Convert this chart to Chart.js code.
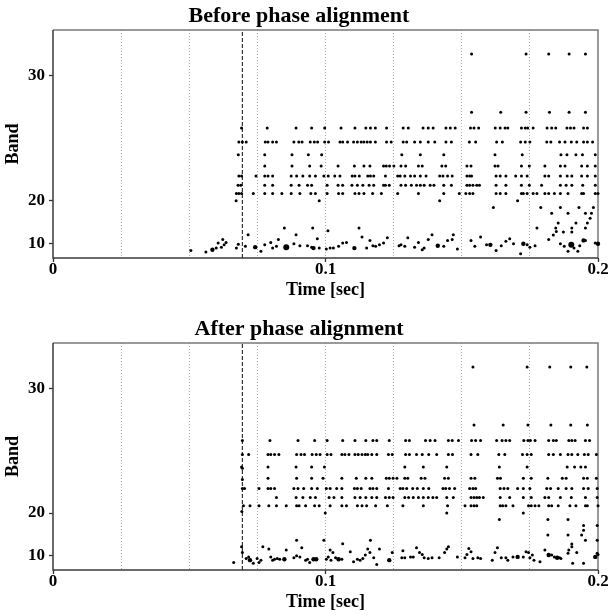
<!DOCTYPE html>
<html>
<head>
<meta charset="utf-8">
<script src="https://cdn.jsdelivr.net/npm/chart.js@4.4.1/dist/chart.umd.min.js"></script>
<style>
  body { margin: 0; background: #fff; }
  .box { position: relative; width: 611px; }
  #top { height: 312px; }
  #bottom { height: 303px; }
</style>
</head>
<body>
<div class="box" id="top"><canvas id="before"></canvas></div>
<div class="box" id="bottom"><canvas id="after"></canvas></div>
<script>
// bands that fire as regular rows, and the spike times (ms) on each row
const rowBands = [31, 28, 27, 26, 25, 24, 23, 22, 21];

const beforeRowTimes = [
  [153.6, 173.6, 181.9, 189.4, 195.4],
  [153.6, 164.3, 173.6, 182.2, 189.4, 195.4],
  [69.2, 78.6, 89.2, 94.9, 99.7, 105.7, 110.8, 114.8, 116.5, 118.3, 122.4, 128.5, 130.4, 135.8, 137.7, 139.5, 144.2, 145.8, 147.6, 153.2, 154.5, 156.2, 162.3, 164.1, 165.9, 166.9, 171.9, 173.3, 174.2, 176.2, 181.3, 183.0, 184.5, 188.6, 189.9, 191.2, 194.7, 196.1],
  [68.2, 69.5, 70.9, 77.9, 78.9, 80.6, 82.0, 88.4, 90.2, 91.4, 94.4, 95.9, 97.1, 99.7, 101.1, 105.3, 106.3, 108.1, 110.3, 111.7, 113.1, 114.1, 115.3, 116.5, 118.3, 122.4, 124.1, 128.5, 129.8, 132.7, 134.8, 137.7, 140.1, 144.2, 146.2, 152.8, 155.1, 162.8, 164.9, 171.6, 173.3, 175.0, 181.2, 182.7, 185.9, 187.9, 190.2, 192.2, 194.7, 196.1, 198.0],
  [68.0, 77.7, 87.7, 93.7, 98.6, 128.0, 134.8, 143.4, 162.2, 172.2, 186.4, 188.6, 191.9, 194.3, 199.0],
  [77.7, 87.7, 94.2, 98.4, 104.6, 110.6, 114.1, 116.3, 121.3, 122.3, 123.5, 125.1, 127.7, 129.4, 134.1, 135.5, 142.7, 144.1, 151.9, 153.4, 162.2, 163.3, 171.9, 174.8, 180.5, 186.2, 187.9, 194.0, 196.1, 199.0],
  [68.2, 69.2, 74.5, 77.7, 78.9, 80.6, 87.4, 89.4, 91.7, 94.2, 96.3, 99.4, 101.0, 103.4, 105.3, 109.8, 110.8, 112.4, 115.5, 116.5, 117.7, 122.0, 126.5, 127.4, 129.1, 131.2, 132.7, 134.8, 136.9, 141.9, 143.1, 144.8, 146.5, 151.9, 152.9, 153.6, 162.6, 164.1, 166.2, 169.8, 171.9, 174.0, 180.5, 181.9, 186.2, 188.7, 190.4, 194.0, 196.1, 199.0],
  [67.9, 68.9, 77.7, 80.6, 87.4, 90.3, 93.4, 94.9, 100.6, 104.6, 106.3, 109.7, 111.7, 113.7, 116.0, 117.7, 121.3, 122.0, 123.4, 127.7, 129.4, 131.5, 133.4, 134.8, 136.2, 138.4, 139.8, 143.4, 146.2, 151.9, 152.9, 154.1, 155.5, 156.5, 162.6, 166.2, 171.9, 174.8, 179.3, 186.2, 188.3, 190.4, 194.4, 199.0],
  [67.3, 68.2, 69.2, 73.5, 77.7, 80.6, 84.0, 87.4, 90.6, 94.6, 96.3, 100.6, 104.8, 106.3, 110.8, 112.3, 114.1, 117.3, 120.5, 126.5, 134.1, 143.4, 149.1, 151.5, 152.9, 154.1, 162.6, 164.1, 166.2, 171.9, 172.6, 174.0, 176.2, 177.6, 180.5, 181.9, 184.0, 186.2, 189.0, 194.0, 194.7, 199.0, 200.0]
];

const afterRowTimes = [
  [154.1, 174.0, 182.3, 190.0, 195.9],
  [154.5, 165.2, 174.3, 182.7, 190.0, 196.1],
  [69.5, 79.6, 89.9, 96.0, 100.6, 106.3, 110.8, 114.8, 117.4, 118.8, 123.4, 129.4, 130.8, 136.7, 138.4, 140.2, 145.1, 146.5, 148.8, 153.6, 155.1, 156.9, 162.8, 164.8, 166.2, 167.6, 172.8, 174.3, 175.2, 176.9, 181.9, 183.6, 184.7, 189.3, 190.4, 191.6, 195.4, 196.9],
  [69.5, 71.8, 78.9, 79.9, 81.3, 82.9, 89.4, 91.0, 92.3, 95.1, 96.6, 98.0, 100.6, 102.0, 106.0, 107.1, 108.6, 110.8, 112.0, 113.4, 114.6, 115.5, 117.0, 118.8, 123.1, 124.5, 129.4, 130.8, 133.4, 135.5, 137.9, 140.8, 145.1, 146.6, 153.4, 155.9, 163.6, 165.8, 172.3, 174.0, 175.5, 181.9, 183.6, 186.2, 189.0, 190.4, 192.6, 195.0, 196.4, 199.4],
  [69.2, 78.9, 89.2, 94.9, 99.6, 129.1, 135.9, 144.5, 163.8, 174.0, 188.7, 191.4, 193.7, 195.4],
  [78.9, 89.4, 94.9, 99.1, 106.0, 111.3, 114.8, 117.0, 122.3, 123.4, 124.8, 126.2, 129.1, 130.2, 135.1, 136.5, 143.7, 145.1, 153.4, 154.8, 163.1, 164.2, 172.6, 175.5, 181.6, 186.9, 188.3, 194.7, 196.1, 199.4],
  [69.5, 70.3, 75.6, 78.9, 79.9, 81.3, 88.4, 89.9, 92.0, 94.9, 97.0, 100.3, 101.7, 104.1, 106.0, 110.6, 111.7, 113.1, 116.3, 117.4, 118.8, 123.1, 127.4, 128.4, 129.8, 132.0, 133.7, 135.9, 137.9, 143.1, 144.1, 145.5, 147.4, 152.9, 154.1, 155.1, 164.1, 165.5, 166.9, 170.5, 172.6, 175.0, 181.2, 182.6, 185.4, 188.3, 190.4, 194.7, 196.4, 199.7],
  [82.0, 89.2, 91.7, 94.4, 96.3, 101.3, 103.1, 106.0, 110.8, 112.7, 114.8, 117.0, 118.8, 122.0, 123.4, 124.8, 129.1, 130.5, 132.2, 134.1, 135.9, 137.7, 139.4, 140.8, 144.5, 146.9, 153.4, 154.5, 155.5, 156.5, 157.9, 164.1, 167.6, 172.6, 175.5, 180.5, 181.9, 186.2, 190.2, 195.4, 199.7],
  [69.9, 72.3, 75.6, 79.2, 82.0, 85.6, 89.4, 90.3, 92.7, 96.0, 97.7, 101.7, 106.0, 107.7, 111.7, 113.4, 115.1, 118.4, 122.7, 128.4, 135.9, 144.8, 151.2, 153.4, 154.5, 155.5, 164.1, 165.0, 166.2, 168.8, 174.5, 175.5, 176.9, 178.3, 181.9, 183.0, 185.4, 189.7, 191.9, 195.4, 196.1, 200.0]
];

// loose spikes: [time ms, band, strength 1..3]
const beforeLoose = [
  [67.2, 20, 1], [97.7, 20, 1], [141.9, 20, 1], [170.5, 20, 1],
  [161.6, 19, 1], [179.0, 19, 1], [186.2, 19, 1], [193.0, 19, 1], [198.3, 19, 1],
  [183.0, 18, 1], [189.0, 18, 1], [195.4, 18, 1], [197.6, 18, 1], [197.1, 17.1, 1],
  [185.4, 16.1, 1], [191.9, 16.1, 1], [196.1, 16.1, 1],
  [177.6, 14.9, 1], [184.5, 14.9, 1], [190.4, 14.9, 1], [195.4, 14.9, 1],
  [187.3, 13.9, 1], [190.4, 13.9, 1],
  [50.6, 6.5, 1], [56.1, 5.4, 1], [58.5, 6.9, 2], [59.9, 7.8, 1], [61.8, 8.3, 1], [62.8, 9.4, 1],
  [63.5, 10.4, 1], [62.3, 11.5, 1], [60.6, 10.2, 1], [67.3, 7.8, 1], [68.0, 9.7, 1], [70.6, 8.7, 1],
  [71.6, 13.1, 1], [74.2, 8.3, 2], [76.3, 5.9, 1], [77.7, 9.4, 1], [79.9, 10.4, 1], [80.6, 7.8, 1],
  [82.0, 8.7, 1], [82.7, 11.5, 1], [84.9, 14.9, 1], [85.6, 8.3, 3], [88.4, 9.9, 1], [89.2, 13.1, 1],
  [90.6, 9.0, 1], [93.4, 9.0, 1], [94.9, 8.3, 1], [95.3, 14.9, 1], [95.6, 7.8, 2], [97.0, 11.8, 1],
  [97.7, 7.8, 1], [100.3, 7.3, 1], [100.9, 14.2, 1], [101.7, 7.8, 1], [102.9, 7.8, 1], [104.8, 8.7, 1],
  [106.3, 10.2, 1], [107.7, 10.4, 1], [110.6, 7.8, 2], [112.3, 14.9, 1], [113.4, 12.4, 1], [115.1, 7.8, 1],
  [116.3, 11.2, 1], [117.4, 9.0, 1], [118.4, 8.7, 1], [119.8, 9.4, 1], [121.3, 10.2, 1], [122.7, 12.1, 1],
  [127.0, 9.0, 1], [127.7, 9.4, 1], [129.1, 8.7, 1], [130.2, 12.1, 1], [132.7, 8.3, 1], [134.1, 10.4, 1],
  [135.5, 6.9, 1], [136.2, 7.8, 1], [137.7, 11.5, 1], [139.1, 13.1, 1], [141.2, 9.0, 2], [143.4, 8.7, 1],
  [144.8, 11.2, 1], [146.5, 11.5, 1], [146.9, 13.1, 1], [148.4, 7.3, 1], [153.4, 11.2, 1], [154.8, 8.7, 1],
  [156.9, 12.4, 1], [159.1, 9.4, 1], [160.5, 9.4, 2], [162.6, 6.5, 1], [164.5, 9.0, 1], [166.2, 10.9, 1],
  [167.6, 11.8, 1], [169.0, 9.9, 1], [171.6, 4.2, 1], [172.6, 9.9, 2], [174.0, 9.4, 1], [175.0, 8.3, 1],
  [176.9, 9.0, 1], [181.9, 11.5, 1], [183.6, 13.0, 1], [184.7, 14.0, 1], [186.2, 9.9, 1], [187.6, 8.7, 1],
  [189.0, 5.9, 1], [190.2, 9.4, 3], [191.2, 7.8, 1], [192.6, 5.9, 1], [193.3, 9.0, 1], [194.7, 11.2, 2],
  [195.4, 11.2, 1], [199.0, 10.2, 1], [200.0, 9.9, 2]
];

const afterLoose = [
  [99.9, 20, 1], [144.5, 20, 1], [172.6, 20, 1],
  [163.8, 19, 1], [181.6, 19, 1], [189.0, 19, 1],
  [194.7, 18, 1], [199.7, 18, 1], [194.7, 17.1, 1],
  [181.6, 16.1, 1], [189.0, 16.1, 1], [194.0, 16.1, 1],
  [195.4, 14.9, 1], [199.7, 14.9, 1], [89.4, 14.9, 1], [99.4, 14.9, 1], [116.5, 14.9, 1], [190.4, 13.9, 1],
  [69.5, 24.9, 1], [69.5, 23.9, 1], [69.3, 20.2, 1],
  [66.3, 6.5, 1], [69.2, 13.1, 1], [69.5, 11.2, 1], [70.9, 8.7, 1], [71.8, 9.4, 1], [72.3, 7.8, 2],
  [73.5, 5.9, 1], [74.9, 8.7, 1], [75.6, 6.5, 1], [76.3, 7.8, 1], [77.0, 13.1, 1], [79.2, 12.4, 1],
  [79.9, 9.4, 1], [80.6, 7.8, 1], [81.3, 8.3, 1], [82.3, 8.7, 1], [83.2, 8.3, 1], [84.9, 8.3, 2],
  [85.6, 12.1, 1], [88.4, 9.0, 1], [89.4, 9.9, 1], [90.6, 9.4, 1], [91.3, 12.8, 1], [92.7, 7.8, 1],
  [93.4, 8.3, 1], [94.2, 6.5, 1], [95.6, 8.3, 2], [96.6, 8.3, 2], [100.3, 8.3, 1], [101.0, 9.4, 1],
  [101.7, 12.1, 1], [102.0, 7.8, 1], [102.7, 11.2, 1], [103.7, 9.0, 1], [104.8, 8.3, 2], [106.0, 8.3, 1],
  [106.3, 14.0, 1], [109.1, 11.5, 1], [110.3, 6.9, 1], [111.7, 8.3, 1], [112.7, 7.8, 1], [113.7, 8.7, 1],
  [114.6, 10.2, 1], [115.5, 12.4, 1], [116.3, 11.2, 1], [117.7, 9.0, 1], [118.8, 5.2, 1], [119.8, 12.4, 1],
  [123.4, 7.8, 2], [124.5, 11.2, 1], [128.0, 9.0, 1], [128.4, 11.8, 1], [129.1, 9.0, 1], [131.2, 9.4, 1],
  [132.2, 9.4, 1], [133.4, 12.8, 1], [134.5, 11.2, 1], [135.5, 10.4, 1], [136.2, 9.0, 1], [137.7, 8.7, 1],
  [139.1, 9.0, 1], [141.7, 9.0, 1], [143.7, 11.2, 1], [144.5, 12.4, 1], [145.1, 13.1, 1], [148.4, 9.4, 1],
  [151.2, 9.0, 1], [151.9, 10.4, 1], [152.6, 12.6, 1], [153.4, 11.5, 1], [154.1, 8.7, 1], [155.9, 9.0, 1],
  [156.9, 8.7, 1], [161.2, 7.8, 1], [162.2, 11.2, 1], [163.1, 12.8, 1], [164.5, 9.0, 1], [166.2, 9.0, 1],
  [166.9, 7.8, 1], [168.8, 9.4, 1], [170.5, 9.4, 2], [172.6, 9.4, 1], [173.6, 11.5, 1], [174.5, 11.2, 1],
  [175.0, 9.0, 1], [175.9, 10.2, 1], [176.5, 7.8, 1], [178.7, 6.9, 1], [180.5, 12.1, 1], [181.9, 10.2, 2],
  [183.0, 10.2, 1], [184.0, 9.4, 1], [185.0, 9.0, 2], [185.9, 9.0, 1], [186.4, 8.7, 1], [189.0, 10.9, 1],
  [189.3, 12.1, 1], [190.4, 13.1, 1], [190.7, 5.9, 1], [192.2, 11.2, 1], [194.7, 5.9, 1], [199.0, 9.4, 2],
  [199.7, 10.9, 1], [200.0, 10.4, 1]
];

const bandTicks = [10, 20, 30];
const onsetSec = 0.0695;   // dashed marker
const bandMax = 32;

const serif = '"Liberation Serif", "Times New Roman", serif';
const radiusFor = [0, 1.5, 2.2, 3.0];

// bands sit on an ERB-like frequency axis
function bandToHz(b) { return (Math.pow(10, b / 21.4) - 1) / 0.00437; }
function hzToBand(f) { return 21.4 * Math.log10(1 + 0.00437 * f); }

class BandScale extends Chart.LinearScale {
  getPixelForValue(v) {
    const f0 = bandToHz(this.min), f1 = bandToHz(this.max);
    return this.getPixelForDecimal((bandToHz(v) - f0) / (f1 - f0));
  }
  getValueForPixel(p) {
    const f0 = bandToHz(this.min), f1 = bandToHz(this.max);
    return hzToBand(f0 + this.getDecimalForPixel(p) * (f1 - f0));
  }
}
BandScale.id = 'band';
BandScale.defaults = Chart.LinearScale.defaults;
Chart.register(BandScale);

const frame = {
  id: 'frame',
  beforeDatasetsDraw(chart) {
    const { ctx, chartArea: a } = chart;
    ctx.save();
    ctx.lineWidth = 1.5;
    ctx.strokeStyle = '#7a7a7a';
    ctx.beginPath();
    ctx.moveTo(a.left, a.top); ctx.lineTo(a.right, a.top); ctx.lineTo(a.right, a.bottom);
    ctx.stroke();
    ctx.strokeStyle = '#3a3a3a';
    ctx.beginPath();
    ctx.moveTo(a.left, a.top); ctx.lineTo(a.left, a.bottom); ctx.lineTo(a.right, a.bottom);
    ctx.stroke();
    ctx.restore();
  }
};

function isLabelled(v) {
  return Math.abs(v * 10 - Math.round(v * 10)) < 1e-6;
}

function buildPoints(rowTimes, loose) {
  const pts = [];
  rowBands.forEach((b, i) => rowTimes[i].forEach(t => pts.push({ x: t / 1000, y: b, s: 1 })));
  loose.forEach(([t, b, s]) => pts.push({ x: t / 1000, y: b, s: s }));
  return pts;
}

function makeChart(id, title, rowTimes, loose, titlePad, axisHeight, axisTitlePad) {
  new Chart(document.getElementById(id), {
    type: 'scatter',
    data: {
      datasets: [
        {
          data: buildPoints(rowTimes, loose),
          backgroundColor: '#000',
          borderWidth: 0,
          pointRadius: c => radiusFor[c.raw.s],
          pointHoverRadius: c => radiusFor[c.raw.s],
          clip: false
        },
        {
          type: 'line',
          data: [{ x: onsetSec, y: 0 }, { x: onsetSec, y: bandMax }],
          borderColor: '#333',
          borderWidth: 1.2,
          borderDash: [4, 2],
          pointRadius: 0,
          fill: false
        }
      ]
    },
    options: {
      responsive: true,
      maintainAspectRatio: false,
      animation: false,
      layout: { padding: { left: 0, right: 13, top: 0, bottom: 0 } },
      plugins: {
        legend: { display: false },
        tooltip: { enabled: false },
        title: {
          display: true,
          text: title,
          color: '#000',
          font: { family: serif, size: 22, weight: 'bold' },
          padding: titlePad
        }
      },
      scales: {
        x: {
          type: 'linear',
          min: 0,
          max: 0.2,
          bounds: 'data',
          afterFit: s => { s.height = axisHeight; },
          border: { display: false, dash: [1, 2] },
          grid: {
            color: c => {
              const v = c.tick ? c.tick.value : 0;
              return (v < 1e-6 || v > 0.2 - 1e-6) ? 'rgba(0,0,0,0)' : '#a8a8a8';
            },
            lineWidth: 1,
            tickLength: 4,
            tickWidth: 1.3,
            tickColor: c => (c.tick && isLabelled(c.tick.value)) ? '#333' : 'rgba(0,0,0,0)'
          },
          ticks: {
            stepSize: 0.025,
            autoSkip: false,
            maxRotation: 0,
            padding: -2.5,
            color: '#000',
            font: { family: serif, size: 17, weight: 'bold' },
            callback: v => isLabelled(v) ? String(Math.round(v * 10) / 10) : ''
          },
          title: {
            display: true,
            text: 'Time [sec]',
            color: '#000',
            font: { family: serif, size: 18, weight: 'bold' },
            padding: { top: 0, bottom: axisTitlePad }
          }
        },
        y: {
          type: 'band',
          min: 0,
          max: bandMax,
          bounds: 'data',
          afterFit: s => { s.width = 53; },
          afterBuildTicks: s => { s.ticks = bandTicks.map(v => ({ value: v })); },
          border: { display: false },
          grid: { drawOnChartArea: false, tickLength: 4, tickWidth: 1.3, tickColor: '#333' },
          ticks: {
            padding: 4,
            color: '#000',
            font: { family: serif, size: 17, weight: 'bold' },
            callback: v => String(v)
          },
          title: {
            display: true,
            text: 'Band',
            color: '#000',
            font: { family: serif, size: 18, weight: 'bold' },
            padding: { top: 2.2, bottom: 0 }
          }
        }
      }
    },
    plugins: [frame]
  });
}

makeChart('before', 'Before phase alignment', beforeRowTimes, beforeLoose, { top: 3.5, bottom: 0.1 }, 54, 11.2);
makeChart('after', 'After phase alignment', afterRowTimes, afterLoose, { top: 3.8, bottom: 0.8 }, 45, 2.2);
</script>
</body>
</html>
